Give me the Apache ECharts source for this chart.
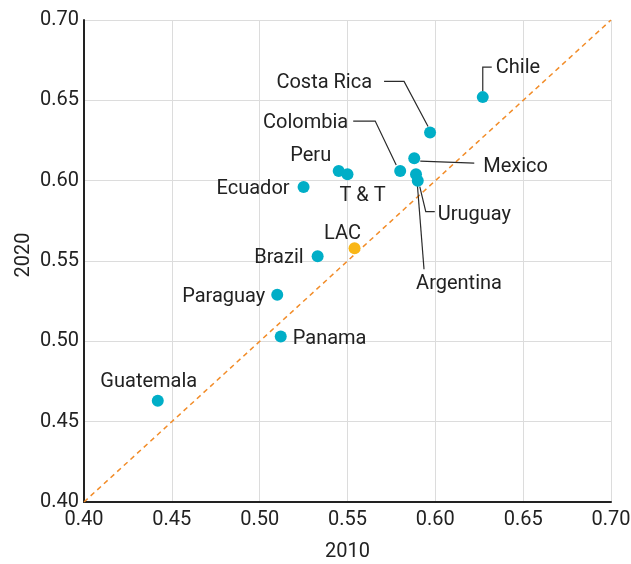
<!DOCTYPE html>
<html><head><meta charset="utf-8">
<script src="https://cdn.jsdelivr.net/npm/echarts@6/dist/echarts.min.js"></script>
<style>html,body{margin:0;padding:0;background:#fff}#c{width:631px;height:564px}</style>
</head><body><div id="c"></div>
<script>
// ---- data ----
const countries = ['Chile','Costa Rica','Mexico','Colombia','Argentina','Uruguay','Peru','T & T','Ecuador','Brazil','Paraguay','Panama','Guatemala'];
const values2010 = [0.627,0.597,0.588,0.580,0.589,0.590,0.545,0.550,0.525,0.533,0.510,0.512,0.442];
const values2020 = [0.652,0.630,0.614,0.606,0.604,0.600,0.606,0.604,0.596,0.553,0.529,0.503,0.463];
const lacNames = ['LAC'];
const lac2010 = [0.554];
const lac2020 = [0.558];
const parityLine = [[0.40,0.40],[0.70,0.70]];
const axisMin = 0.40, axisMax = 0.70, axisStep = 0.05;
const xName = '2010', yName = '2020';

// ---- label layout (pixel offsets from each point) ----
const labelLayout = {
  'Chile':      {align:'left',   off:[13,-29], leader:[[0,-6],[0,-30],[9,-30]]},
  'Costa Rica': {align:'right',  off:[-58,-49], leader:[[-2,-6],[-26,-51],[-46,-51]]},
  'Mexico':     {align:'left',   off:[69,9],   leader:[[6,3],[60,5]]},
  'Colombia':   {align:'right',  off:[-52,-48], leader:[[-4,-6],[-25,-50],[-47,-50]]},
  'Argentina':  {align:'center', off:[43,110], leader:[[1,6],[8,95]]},
  'Uruguay':    {align:'left',   off:[20,34],  leader:[[2,6],[8,31],[17,31]]},
  'Peru':       {align:'center', off:[-28,-15]},
  'T & T':      {align:'center', off:[15,22]},
  'Ecuador':    {align:'right',  off:[-14,2]},
  'Brazil':     {align:'right',  off:[-14,2]},
  'Paraguay':   {align:'right',  off:[-12,2]},
  'Panama':     {align:'left',   off:[12,2]},
  'Guatemala':  {align:'center', off:[-9,-19]},
  'LAC':        {align:'center', off:[-12,-14]}
};

const FONT = "Roboto, sans-serif";
const FS = 20;
const TXT = '#222222';

function mkPoints(names, xs, ys) {
  return names.map((n, i) => {
    const L = labelLayout[n];
    return {
      name: n, value: [xs[i], ys[i]],
      label: {show: true, position: 'inside', align: L.align, verticalAlign: 'middle', offset: L.off, formatter: n}
    };
  });
}

const chart = echarts.init(document.getElementById('c'), null, {renderer: 'canvas'});
const axisCommon = {
  type: 'value', min: axisMin, max: axisMax, interval: axisStep,
  nameLocation: 'middle', nameMoveOverlap: false,
  axisLine: {show: true, onZero: false, lineStyle: {color: '#222', width: 2}},
  axisTick: {show: false},
  axisLabel: {color: TXT, fontSize: FS, fontFamily: FONT, formatter: v => v.toFixed(2)},
  splitLine: {show: true, lineStyle: {color: '#dcdcdc', width: 1}}
};
const labelStyle = {color: TXT, fontSize: FS, fontFamily: FONT};
chart.setOption({
  animation: false,
  grid: {left: 84, right: 20, top: 20, bottom: 62, containLabel: false, outerBoundsMode: 'none'},
  xAxis: Object.assign({}, axisCommon, {name: xName, nameGap: 40,
    nameTextStyle: {color: TXT, fontSize: FS, fontFamily: FONT},
    axisLabel: Object.assign({}, axisCommon.axisLabel, {margin: 8})}),
  yAxis: Object.assign({}, axisCommon, {name: yName, nameGap: 50,
    nameTextStyle: {color: TXT, fontSize: FS, fontFamily: FONT, padding: [0, 0, 0, 12]},
    axisLabel: Object.assign({}, axisCommon.axisLabel, {margin: 5})}),
  series: [
    {type: 'line', data: parityLine, symbol: 'none', silent: true, z: 1,
     lineStyle: {color: '#F28C28', width: 1.5, type: [5, 4]}},
    {type: 'scatter', data: mkPoints(countries, values2010, values2020), symbolSize: 12, z: 3,
     itemStyle: {color: '#00AEC7', opacity: 1}, label: labelStyle},
    {type: 'scatter', data: mkPoints(lacNames, lac2010, lac2020), symbolSize: 12, z: 3,
     itemStyle: {color: '#F9B616', opacity: 1}, label: labelStyle}
  ]
});

// leader lines, anchored to each point through the chart's own scales
const leaders = [];
countries.forEach((n, i) => {
  const L = labelLayout[n];
  if (!L.leader) return;
  const p = chart.convertToPixel({gridIndex: 0}, [values2010[i], values2020[i]]);
  leaders.push({
    type: 'polyline', z: 2, silent: true,
    shape: {points: L.leader.map(d => [p[0] + d[0], p[1] + d[1]])},
    style: {stroke: '#2b2b2b', lineWidth: 1.2, fill: null}
  });
});
chart.setOption({graphic: leaders});
</script>
</body></html>
